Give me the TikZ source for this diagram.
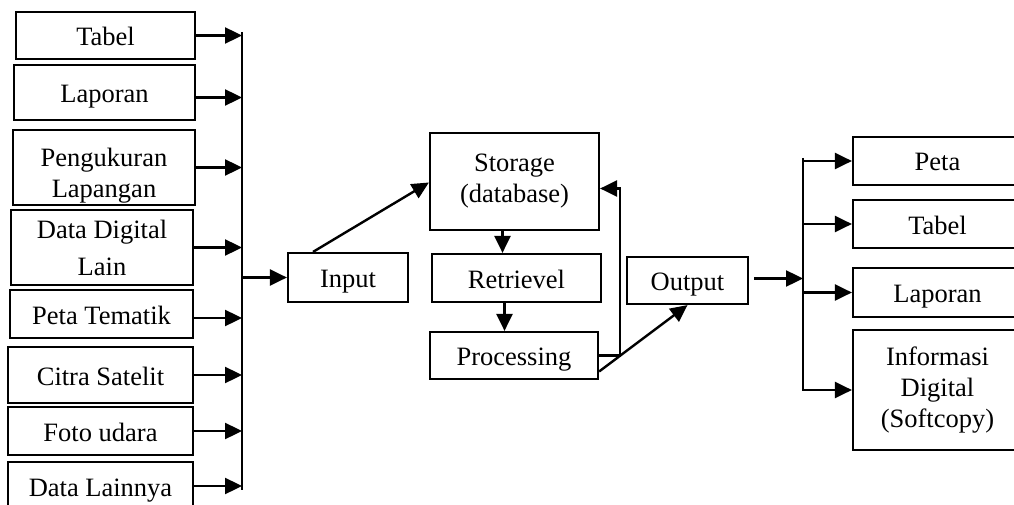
\documentclass[tikz,border=0pt]{standalone}
\usepackage{fontspec}
\setmainfont{Liberation Serif}
\usetikzlibrary{arrows.meta}
\begin{document}
\begin{tikzpicture}[x=1pt,y=-1pt,
    box/.style={draw, line width=2.2pt, inner sep=0pt, align=center, font=\fontsize{26.5}{31}\selectfont},
    single/.style={text height=20pt, text depth=0pt},
    arr/.style={line width=2.4pt, -{Triangle[length=17pt,width=16pt]}},
    ln/.style={line width=2.4pt}]
    \useasboundingbox (0,0) rectangle (1014,505);
    \clip (0,0) rectangle (1014,505);
    \node[box, single, minimum width=179pt, minimum height=47pt] (t1) at (105.5,35.5) {Tabel};
    \node[box, single, minimum width=181pt, minimum height=55pt] (t2) at (104.5,92.5) {Laporan};
    \node[box, minimum width=182pt, minimum height=75pt] (t3) at (104,167.5) {\rule{0pt}{34pt}Pengukuran\\Lapangan};
    \node[box, minimum width=182pt, minimum height=75pt] (t4) at (102,247.5) {Data Digital\\[6pt]Lain};
    \node[box, single, minimum width=183pt, minimum height=48pt] (t5) at (101.5,314) {Peta Tematik};
    \node[box, single, minimum width=185pt, minimum height=56pt] (t6) at (100.5,375) {Citra Satelit};
    \node[box, single, minimum width=185pt, minimum height=48pt] (t7) at (100.5,431) {Foto udara};
    \node[box, single, minimum width=185pt, minimum height=48pt] (t8) at (100.5,486) {Data Lainnya};
    \coordinate (busL) at (242,32);
    \coordinate (busLend) at (242,490);
    \draw[ln] (busL) -- (busLend);
    \draw[arr] (t1.east) -- (t1.east -| busL);
    \draw[arr] ([yshift=-5pt]t2.east) -- ([yshift=-5pt]t2.east -| busL);
    \draw[arr] (t3.east) -- (t3.east -| busL);
    \draw[arr] (t4.east) -- (t4.east -| busL);
    \draw[arr] ([yshift=-4pt]t5.east) -- ([yshift=-4pt]t5.east -| busL);
    \draw[arr] (t6.east) -- (t6.east -| busL);
    \draw[arr] (t7.east) -- (t7.east -| busL);
    \draw[arr] (t8.east) -- (t8.east -| busL);
    \node[box, single, minimum width=120pt, minimum height=49pt] (input) at (348,277.5) {Input};
    \node[box, minimum width=169pt, minimum height=97pt] (storage) at (514.5,181.5) {Storage\\(database)};
    \node[box, single, minimum width=169pt, minimum height=48pt] (retrievel) at (516.5,278) {Retrievel};
    \node[box, single, minimum width=168pt, minimum height=47pt] (processing) at (514,355.5) {Processing};
    \node[box, single, minimum width=121pt, minimum height=47pt] (output) at (687.5,280.5) {Output};
    \draw[arr] (input.west -| busL) -- (input.west);
    \draw[arr] ([xshift=-35pt]input.north) -- ([yshift=-1pt]storage.west);
    \draw[arr] ([xshift=-12pt]storage.south) -- ([xshift=-12pt]storage.south |- retrievel.north);
    \draw[arr] ([xshift=-12pt]retrievel.south) -- ([xshift=-12pt]retrievel.south |- processing.north);
    \draw[arr] (processing.east) -| ([xshift=20pt,yshift=-7pt]storage.east) -- ([yshift=-7pt]storage.east);
    \draw[arr] ([yshift=-16pt]processing.east) -- (output.south);
    \coordinate (busR) at (803,158);
    \coordinate (busRend) at (803,391);
    \draw[ln] (busR) -- (busRend);
    \draw[arr] ([xshift=5pt,yshift=2pt]output.east) -- ([yshift=2pt]output.east -| busR);
    \node[box, single, minimum width=169pt, minimum height=48pt] (r1) at (937.5,161) {Peta};
    \node[box, single, minimum width=169pt, minimum height=48pt] (r2) at (937.5,224) {Tabel};
    \node[box, single, minimum width=169pt, minimum height=49pt] (r3) at (937.5,292.5) {Laporan};
    \node[box, minimum width=169pt, minimum height=120pt] (r4) at (937.5,390) {Informasi\\Digital\\(Softcopy)};
    \draw[arr] (r1.west -| busR) -- (r1.west);
    \draw[arr] (r2.west -| busR) -- (r2.west);
    \draw[arr] (r3.west -| busR) -- (r3.west);
    \draw[arr] (r4.west -| busR) -- (r4.west);
\end{tikzpicture}
\end{document}
